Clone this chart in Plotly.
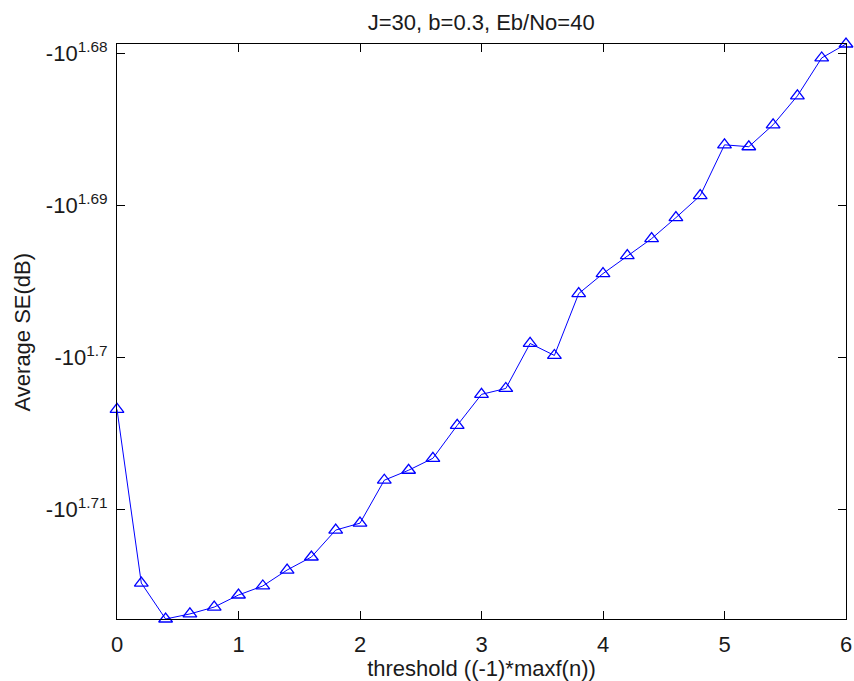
import numpy as np
import plotly.graph_objects as go

# threshold values (x)
threshold = [0.0, 0.2, 0.4, 0.6, 0.8, 1.0, 1.2, 1.4, 1.6, 1.8, 2.0,
             2.2, 2.4, 2.6, 2.8, 3.0, 3.2, 3.4, 3.6, 3.8, 4.0,
             4.2, 4.4, 4.6, 4.8, 5.0, 5.2, 5.4, 5.6, 5.8, 6.0]

# Average SE in dB (negative values)
avg_se_db = [-50.514, -51.859, -52.142, -52.102, -52.048, -51.953, -51.882,
             -51.757, -51.655, -51.445, -51.391, -51.058, -50.981, -50.889,
             -50.636, -50.399, -50.354, -50.012, -50.103, -49.636, -49.486,
             -49.352, -49.225, -49.069, -48.906, -48.531, -48.545, -48.384,
             -48.173, -47.897, -47.796]

# y tick exponents and labels
y_tick_exponents = [1.68, 1.69, 1.70, 1.71]
y_tick_labels = ["-10<sup>1.68</sup>", "-10<sup>1.69</sup>",
                 "-10<sup>1.7</sup>", "-10<sup>1.71</sup>"]
x_tick_vals = [0, 1, 2, 3, 4, 5, 6]
x_tick_labels = ["0", "1", "2", "3", "4", "5", "6"]

mag = [-v for v in avg_se_db]
y_tick_vals = [10 ** e for e in y_tick_exponents]

font_family = "Arial, Liberation Sans, sans-serif"
txt_color = "#1a1a1a"
fs = 22

fig = go.Figure()
fig.add_trace(go.Scatter(
    x=threshold, y=mag, mode="lines+markers",
    line=dict(color="#0000ff", width=1),
    marker=dict(symbol="triangle-up-open", size=12, color="#0000ff",
                line=dict(color="#0000ff", width=1.3)),
    cliponaxis=False, showlegend=False,
))

fig.update_layout(
    width=854, height=681,
    margin=dict(l=117, r=8, t=44, b=62),
    paper_bgcolor="white", plot_bgcolor="white",
    font=dict(family=font_family, size=fs, color=txt_color),
    title=dict(text="J=30, b=0.3, Eb/No=40", x=0.5635, xanchor="center",
               y=1 - 22 / 681, yanchor="middle",
               font=dict(family=font_family, size=fs, color=txt_color)),
    annotations=[dict(
        text="Average SE(dB)", textangle=-90,
        xref="paper", yref="paper", x=-0.129, y=0.5,
        xanchor="center", yanchor="middle", showarrow=False,
        font=dict(family=font_family, size=fs, color=txt_color),
    )],
)
fig.update_xaxes(
    range=[0, 6], tickvals=x_tick_vals, ticktext=x_tick_labels,
    ticks="inside", ticklen=8, tickwidth=1, tickcolor="black",
    showline=True, linecolor="black", linewidth=1, mirror="ticks",
    showgrid=False, zeroline=False, automargin=False,
    ticklabelstandoff=6,
    title=dict(text="threshold ((-1)*maxf(n))", standoff=0,
               font=dict(size=fs)),
    tickfont=dict(size=fs),
)
fig.update_yaxes(
    type="log",
    range=[np.log10(max(mag)), np.log10(min(mag))],
    tickvals=y_tick_vals, ticktext=y_tick_labels,
    ticks="inside", ticklen=8, tickwidth=1, tickcolor="black",
    showline=True, linecolor="black", linewidth=1, mirror="ticks",
    showgrid=False, zeroline=False, automargin=False,
    ticklabelstandoff=4,
    tickfont=dict(size=fs),
)

fig.write_html("out.html")
